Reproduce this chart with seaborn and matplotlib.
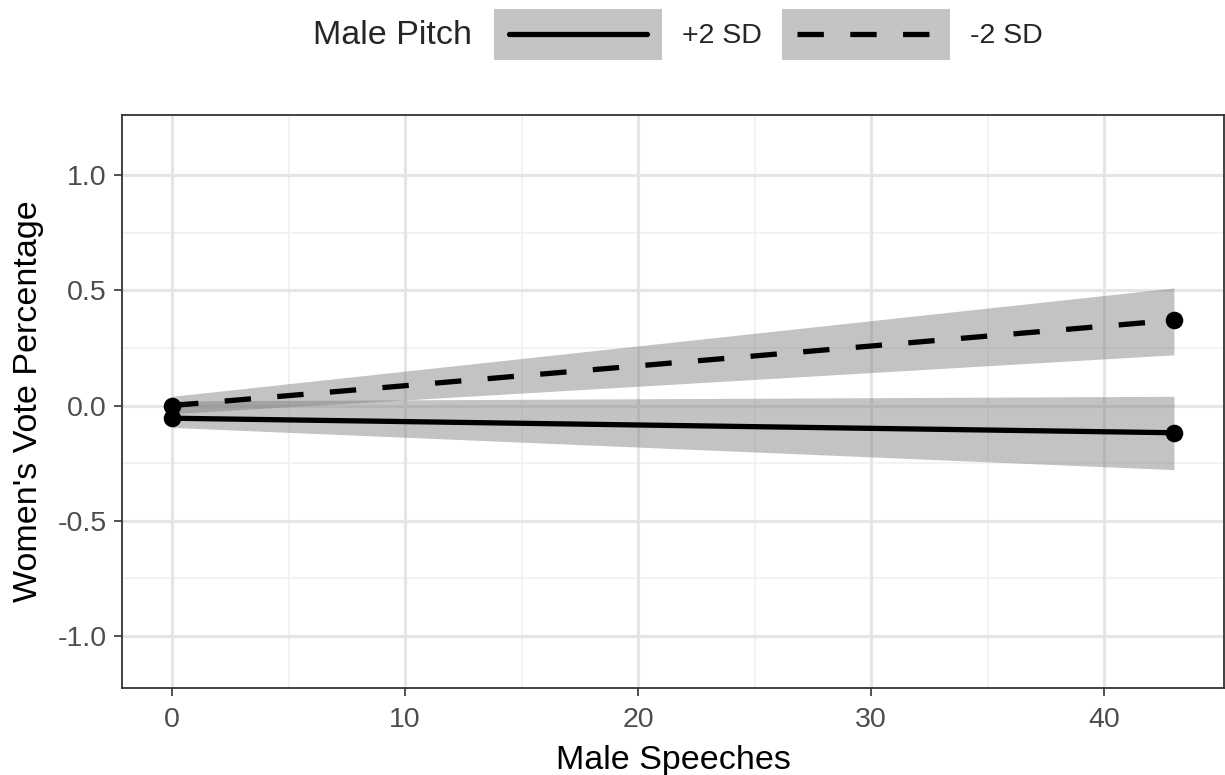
import numpy as np
import pandas as pd
import matplotlib
matplotlib.use("Agg")
import matplotlib.pyplot as plt
import seaborn as sns
from matplotlib.patches import Rectangle
from matplotlib.lines import Line2D

# ---- data ----
speeches = [0, 43]
groups = ["+2 SD", "-2 SD"]
fit_plus = [-0.055, -0.118]
lo_plus = [-0.095, -0.278]
hi_plus = [0.02, 0.04]
fit_minus = [0.0, 0.37]
lo_minus = [-0.035, 0.22]
hi_minus = [0.04, 0.51]
x_ticks = [0, 10, 20, 30, 40]
y_ticks = [-1.0, -0.5, 0.0, 0.5, 1.0]
y_ticklabels = ["-1.0", "-0.5", "0.0", "0.5", "1.0"]

df = pd.DataFrame({
    "Male Speeches": speeches * 2,
    "fit": fit_plus + fit_minus,
    "lo": lo_plus + lo_minus,
    "hi": hi_plus + hi_minus,
    "Male Pitch": [groups[0]] * 2 + [groups[1]] * 2,
})

sns.set_theme(style="white")
plt.rcParams["font.family"] = ["Liberation Sans", "DejaVu Sans"]

fig = plt.figure(figsize=(12.25, 7.75), dpi=100)
ax = fig.add_axes([122 / 1225, 1 - 688 / 775, (1224 - 122) / 1225, (688 - 115) / 775])

LW = 3.8
DASH = (5, 5)
styles = {groups[0]: "", groups[1]: DASH}
ribbon_col = "#808080"
ribbon_alpha = 0.47

# grid (theme_bw like)
ax.set_axisbelow(True)
for v in [5, 15, 25, 35]:
    ax.axvline(v, color="#F0F0F0", lw=1.2, zorder=0)
for v in [-0.75, -0.25, 0.25, 0.75]:
    ax.axhline(v, color="#F0F0F0", lw=1.2, zorder=0)
for v in x_ticks:
    ax.axvline(v, color="#E5E5E5", lw=2.2, zorder=0)
for v in y_ticks:
    ax.axhline(v, color="#E5E5E5", lw=2.2, zorder=0)

for g in groups:
    sub = df[df["Male Pitch"] == g]
    ax.fill_between(sub["Male Speeches"], sub["lo"], sub["hi"],
                    color=ribbon_col, alpha=ribbon_alpha, lw=0, zorder=1)

sns.lineplot(data=df, x="Male Speeches", y="fit", style="Male Pitch",
             dashes=styles, color="black", lw=LW, ax=ax, legend=False,
             zorder=3, estimator=None)
sns.scatterplot(data=df, x="Male Speeches", y="fit", color="black", s=160,
                edgecolor="black", linewidth=0, ax=ax, legend=False, zorder=4)

ax.set_xlim(-2.15, 45.15)
ax.set_ylim(-1.225, 1.26)
ax.set_xticks(x_ticks)
ax.set_yticks(y_ticks)
ax.set_yticklabels(y_ticklabels)
ax.tick_params(axis="both", labelsize=20.5, labelcolor="#4D4D4D", color="#333333",
               length=6, width=1.2, direction="out", bottom=True, left=True)
ax.tick_params(axis="x", pad=8)
ax.tick_params(axis="y", pad=5)
for s in ax.spines.values():
    s.set_color("#333333")
    s.set_linewidth(1.3)
ax.set_xlabel("Male Speeches", fontsize=24.5, color="black", labelpad=8)
ax.set_ylabel("Women's Vote Percentage", fontsize=24.5, color="black", labelpad=10)


# ---- legend ----
class KeyHandler:
    def __init__(self, dashes):
        self.dashes = dashes

    def legend_artist(self, legend, orig_handle, fontsize, handlebox):
        x0, y0 = -handlebox.xdescent, -handlebox.ydescent
        w, h = handlebox.width, handlebox.height
        rect = Rectangle((x0, y0), w, h, facecolor="#C4C4C4", edgecolor="none",
                         transform=handlebox.get_transform())
        inset = w * 0.09
        ln = Line2D([x0 + inset, x0 + w - inset], [y0 + h / 2, y0 + h / 2],
                    color="black", lw=LW, transform=handlebox.get_transform())
        if self.dashes:
            ln.set_dashes(self.dashes)
        handlebox.add_artist(rect)
        handlebox.add_artist(ln)
        return rect


FS_LEG = 20.5
px = FS_LEG * 100 / 72
key_h = 51 / px
hh = (key_h - 0.245) / 0.65
h1 = Line2D([], [], color="black")
h2 = Line2D([], [], color="black", ls="--")
fig.text(313 / 1225, 1 - 36 / 775, "Male Pitch", fontsize=24.5, va="center", ha="left")
leg = fig.legend([h1, h2], groups, loc="center left",
                 bbox_to_anchor=(494 / 1225, 1 - 34 / 775), ncol=2, frameon=False,
                 fontsize=FS_LEG, borderpad=0, borderaxespad=0,
                 handlelength=168 / px, handleheight=hh,
                 handletextpad=20 / px, columnspacing=20 / px,
                 handler_map={h1: KeyHandler(None), h2: KeyHandler(DASH)})

fig.savefig("out.png", dpi=100)
